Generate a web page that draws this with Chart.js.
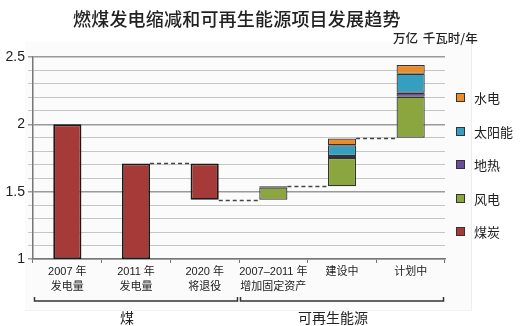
<!DOCTYPE html>
<html>
<head>
<meta charset="utf-8">
<script src="https://cdn.jsdelivr.net/npm/chart.js@4.4.1/dist/chart.umd.min.js"></script>
<style>
  html, body { margin: 0; padding: 0; background: #fff; }
  #wrap { position: relative; width: 520px; height: 326px; overflow: hidden;
          font-family: 'Liberation Sans', 'Noto Sans CJK SC', sans-serif; color: #222; }
  #panel { position: absolute; left: 25px; top: 42px; width: 446px; height: 268px;
           background: #fbfbfb; border-right: 1px solid #eee; border-bottom: 1px solid #f2f2f2; }
  #chart { position: absolute; left: 0; top: 0; }
  #title { position: absolute; left: 73px; top: 5px; font-size: 18px; font-weight: 500;
           font-family: 'Noto Sans CJK SC', sans-serif; letter-spacing: 0.2px; white-space: nowrap; }
  #unit { position: absolute; left: 393px; top: 28px; font-size: 12.5px; font-weight: 500;
          font-family: 'Noto Sans CJK SC', sans-serif; white-space: nowrap; word-spacing: 2px; }
  #legend { position: absolute; left: 456px; top: 0; }
  .lg { position: absolute; left: 0; display: flex; align-items: center; white-space: nowrap;
        font-size: 13px; font-family: 'Noto Sans CJK SC', sans-serif; }
  .lg i { display: inline-block; width: 7px; height: 7px; border: 1px solid #333; margin-right: 9px; }
</style>
</head>
<body>
<div id="wrap">
  <div id="panel"></div>
  <canvas id="chart" width="520" height="326"></canvas>
  <div id="title">燃煤发电缩减和可再生能源项目发展趋势</div>
  <div id="unit">万亿 千瓦时/年</div>
  <div id="legend"></div>
</div>
<script>
/* ── data ─────────────────────────────────────────────────── */
const categories = [['2007 年', '发电量'], ['2011 年', '发电量'], ['2020 年', '将退役'],
                    ['2007–2011 年', '增加固定资产'], '建设中', '计划中'];
const coalLow   = [1, 1, 1.44, null, null, null];
const coalHigh  = [2.0, 1.71, 1.71, null, null, null];
const renewBase = [null, null, null, 1.44, 1.54, 1.90];
const wind      = [0, 0, 0, 0.09, 0.21, 0.305];
const geo       = [0, 0, 0, 0.01, 0.015, 0.03];
const solar     = [0, 0, 0, 0, 0.08, 0.14];
const hydro     = [0, 0, 0, 0, 0.05, 0.065];
const connectLevels = [null, 1.71, 1.44, 1.54, 1.90];   // dashed line after category i
const yTicks    = [1, 1.5, 2, 2.5];                       // labelled ticks
const yMinorStep = 0.1;
const groups    = [{ label: '煤', from: 0, to: 2 }, { label: '可再生能源', from: 3, to: 5 }];

/* ── build floating ranges for the renewable stack ─────────── */
function stackRanges(parts) {
  const out = parts.map(() => []);
  renewBase.forEach((b, i) => {
    let cur = b;
    parts.forEach((p, k) => {
      if (b == null || !p[i]) { out[k].push(null); return; }
      out[k].push([cur, cur + p[i]]);
      cur += p[i];
    });
  });
  return out;
}
const [windR, geoR, solarR, hydroR] = stackRanges([wind, geo, solar, hydro]);
const coalR = coalLow.map((lo, i) => lo == null ? null : [lo, coalHigh[i]]);

const SERIES = [
  { label: '煤炭',   data: coalR,  color: '#a63a38', border: '#1a1a1a', bw: 1.8 },
  { label: '风电',   data: windR,  color: '#8ba63f', border: '#333',    bw: 1.2 },
  { label: '地热',   data: geoR,   color: '#6b4c9a', border: '#333',    bw: 1.2 },
  { label: '太阳能', data: solarR, color: '#369fbf', border: '#333',    bw: 1.2 },
  { label: '水电',   data: hydroR, color: '#e98c2c', border: '#333',    bw: 1.2 },
];

const isMajor = v => yTicks.some(t => Math.abs(t - v) < 1e-6);

/* ── legend (right side, reversed) ─────────────────────────── */
const legendEl = document.getElementById('legend');
legendEl.innerHTML = SERIES.slice().reverse().map((s, i) => `
  <div class="lg" style="top:${88 + i * 33.5}px"><i style="background:${s.color}"></i>${s.label}</div>`).join('');

/* ── overlays: dashed connectors, brackets, group labels ──── */
const overlays = {
  id: 'overlays',
  afterDatasetsDraw(chart) {
    const { ctx, scales: { x, y } } = chart;
    const half = chart.getDatasetMeta(0).data[0].width / 2;
    ctx.save();
    ctx.strokeStyle = '#444';
    ctx.lineWidth = 1.6;
    ctx.setLineDash([4, 3]);
    connectLevels.forEach((lvl, i) => {
      if (lvl == null) return;
      const py = Math.round(y.getPixelForValue(lvl)) + 0.5;
      ctx.beginPath();
      ctx.moveTo(x.getPixelForValue(i) + half, py);
      ctx.lineTo(x.getPixelForValue(i + 1) - half, py);
      ctx.stroke();
    });
    ctx.restore();
  },
  afterDraw(chart) {
    const { ctx, scales: { x } } = chart;
    const step = x.width / categories.length;
    const by = 301;
    ctx.save();
    ctx.strokeStyle = '#333';
    ctx.lineWidth = 1.5;
    ctx.fillStyle = '#222';
    ctx.font = "14px 'Noto Sans CJK SC', sans-serif";
    ctx.textAlign = 'center';
    ctx.textBaseline = 'middle';
    groups.forEach(g => {
      const x0 = x.getPixelForValue(g.from) - step / 2 + 1.5;
      const x1 = x.getPixelForValue(g.to) + step / 2 - 1.5;
      ctx.beginPath();
      ctx.moveTo(x0, by - 4);
      ctx.lineTo(x0, by);
      ctx.lineTo(x1, by);
      ctx.lineTo(x1, by - 4);
      ctx.stroke();
      ctx.fillText(g.label, (x0 + x1) / 2 - 9, 318);
    });
    ctx.restore();
  },
};

/* ── chart ─────────────────────────────────────────────────── */
new Chart(document.getElementById('chart'), {
  type: 'bar',
  data: {
    labels: categories,
    datasets: SERIES.map(s => ({
      label: s.label,
      data: s.data,
      backgroundColor: s.color,
      borderColor: s.border,
      borderWidth: s.bw,
      borderSkipped: false,
      grouped: false,
      barPercentage: 0.41,
      categoryPercentage: 1,
    })),
  },
  options: {
    responsive: false,
    animation: false,
    layout: { padding: { top: 57, right: 75, left: 0, bottom: 0 } },
    plugins: { legend: { display: false }, tooltip: { enabled: false } },
    scales: {
      x: {
        afterFit: s => { s.height = 67; },
        grid: { drawOnChartArea: false, drawTicks: true, tickLength: 4, color: '#777', offset: true },
        border: { color: '#777', width: 1.5 },
        ticks: {
          color: '#222', padding: 1, maxRotation: 0, autoSkip: false,
          font: { size: 11, family: "'Liberation Sans', 'Noto Sans CJK SC', sans-serif", lineHeight: 1.4 },
        },
      },
      y: {
        min: 1, max: 2.5,
        afterFit: s => { s.width = 33; },
        afterBuildTicks: s => {
          const ticks = [];
          for (let v = s.min; v <= s.max + 1e-9; v += yMinorStep) ticks.push({ value: Math.round(v * 10) / 10 });
          s.ticks = ticks;
        },
        ticks: {
          autoSkip: false, color: '#222', padding: 3,
          font: { size: 14, family: "'Liberation Sans', sans-serif" },
          callback: v => isMajor(v) ? String(v) : '',
        },
        grid: {
          tickLength: 5,
          color: c => isMajor(c.tick.value) ? '#9a9a9a' : '#c6c6c6',
          lineWidth: c => isMajor(c.tick.value) ? 1.5 : 1,
        },
        border: { color: '#777', width: 1.5 },
      },
    },
  },
  plugins: [overlays],
});
</script>
</body>
</html>
